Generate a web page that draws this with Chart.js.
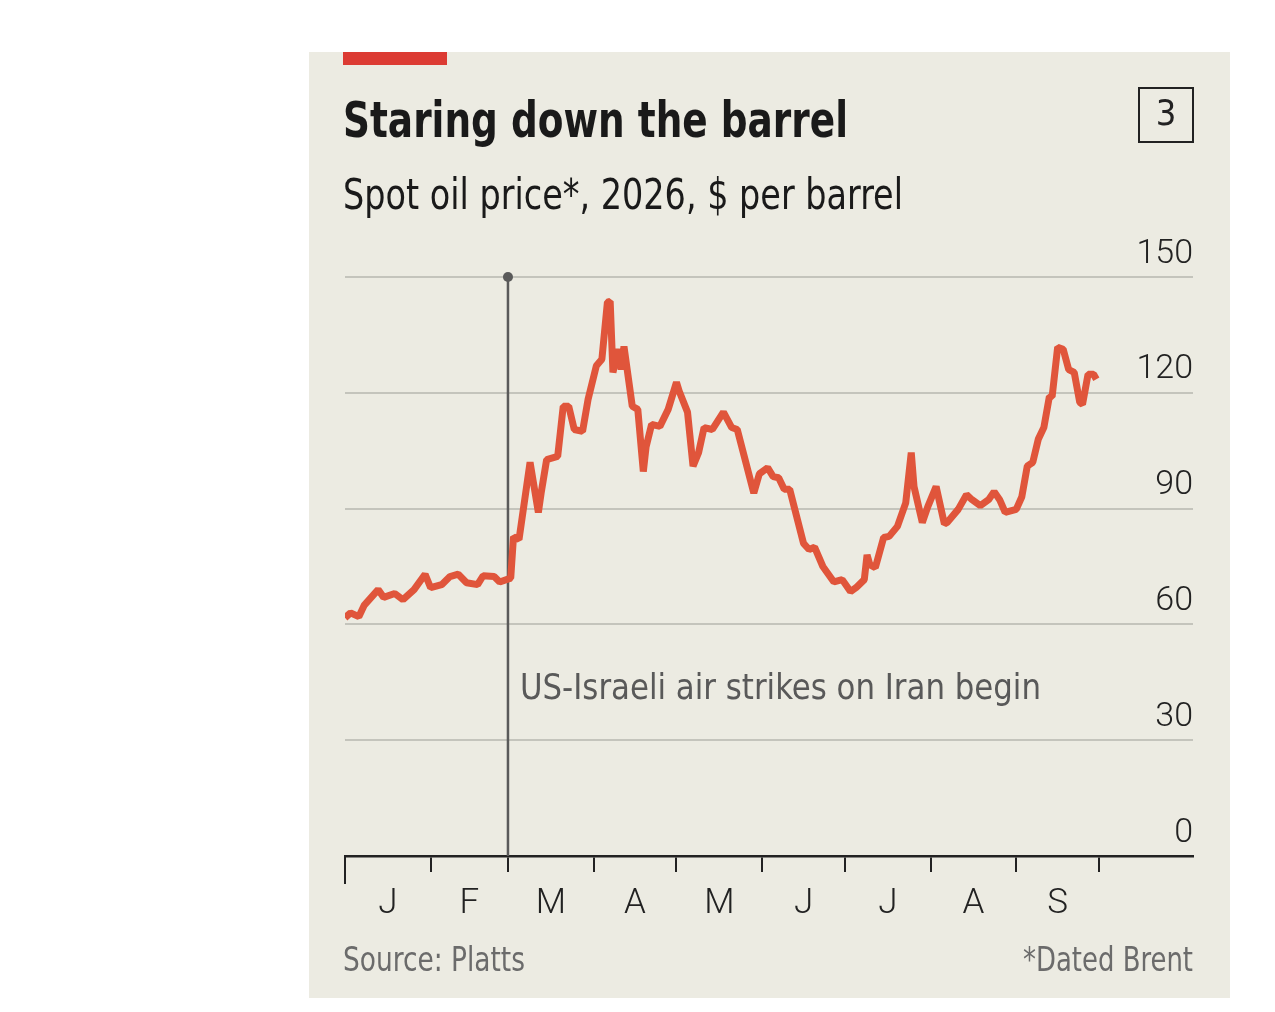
<!DOCTYPE html>
<html>
<head>
<meta charset="utf-8">
<script src="https://cdn.jsdelivr.net/npm/chart.js@4.4.1/dist/chart.umd.min.js"></script>
<style>
  html, body { margin: 0; padding: 0; background: #ffffff; }
  #panel { position: absolute; left: 309px; top: 52px; width: 921px; height: 946px; background: #ECEBE2; }
  #oilChart { display: block; }
</style>
</head>
<body>
<div id="panel"><canvas id="oilChart" width="921" height="946"></canvas></div>
<script>
// day of year 2026 (0 = Jan 1) and Dated Brent price, $ per barrel
var days = [0,2,5,7,12,14,18,21,25,29,31,35,38,41,44,48,50,54,56,60,61,63,67,70,71,73,77,79,81,83,86,88,91,93,95,96,97,99,100,101,104,106,108,109,111,114,117,120,121,124,126,128,130,133,137,140,142,148,150,153,155,157,159,161,166,168,170,173,175,177,180,183,185,188,189,190,192,195,197,200,203,205,206,209,211,214,217,218,222,225,227,230,233,235,237,239,243,245,247,249,251,253,255,256,258,260,262,264,266,267,269,271,272];
var prices = [61.7,63,62,65,69,67,68,66.4,69,73,69.5,70.3,72.4,73,70.8,70.3,72.6,72.4,71,72,82.7,82,102,89,94,102.7,103.5,116.5,116.5,110.5,110,118.3,127,128.7,143.5,143.7,125.3,131.3,126,132,116.5,115.7,99.6,106,111.8,111.3,115.7,122.7,120.4,115,101,104.5,111,110.5,115,111,110.5,94,99,100.6,98.3,98,95,95,81,79.4,80,75,73,71,71.6,68.5,69.5,71.6,78,75.5,74.7,82.5,82.8,85.4,91.5,104.5,95.7,86.4,90.5,95.7,86,86.4,89.8,93.6,92.3,90.8,92.3,94.4,92.3,89,89.8,93,101,102,108,111,119,119,131.8,131.3,126,125.3,117.5,117,124.8,124.8,123.5];

var monthLabels = ['J','F','M','A','M','J','J','A','S'];
var monthStarts = [0,31,59,90,120,151,181,212,243,273];
var yTicks = [0,30,60,90,120,150];
var strikeDay = 59;

var narrow = "'Liberation Sans Narrow', 'DejaVu Sans Condensed', 'Roboto', sans-serif";
var light = "'Roboto', 'DejaVu Sans Condensed', sans-serif";

var points = days.map(function (d, i) { return { x: d, y: prices[i] }; });
var monthMids = monthLabels.map(function (m, i) { return (monthStarts[i] + monthStarts[i + 1]) / 2; });

// text squeezed/stretched to the width it has in the original
function fitText(ctx, text, x, y, font, color, width, align) {
  ctx.save();
  ctx.font = font;
  ctx.fillStyle = color;
  ctx.textAlign = 'left';
  ctx.textBaseline = 'alphabetic';
  var w = ctx.measureText(text).width;
  ctx.translate(align === 'right' ? x - width : x, y);
  ctx.scale(width / w, 1);
  ctx.fillText(text, 0, 0);
  ctx.restore();
}

var strikeLine = {
  id: 'strikeLine',
  beforeDatasetsDraw: function (chart) {
    var ctx = chart.ctx;
    var px = chart.scales.x.getPixelForValue(strikeDay);
    var top = chart.scales.y.getPixelForValue(150);
    var bottom = chart.scales.y.getPixelForValue(0);
    ctx.save();
    ctx.strokeStyle = '#5a5a5a';
    ctx.lineWidth = 2.5;
    ctx.beginPath();
    ctx.moveTo(px, top);
    ctx.lineTo(px, bottom);
    ctx.stroke();
    ctx.fillStyle = '#5a5a5a';
    ctx.beginPath();
    ctx.arc(px, top, 5, 0, Math.PI * 2);
    ctx.fill();
    ctx.restore();
    fitText(ctx, 'US-Israeli air strikes on Iran begin', px + 12, 647,
      '36px ' + narrow, '#595959', 521);
  },
  afterDraw: function (chart) {
    // longer first tick at the start of the year
    var ctx = chart.ctx;
    var px = chart.scales.x.getPixelForValue(0);
    var y0 = chart.scales.y.getPixelForValue(0);
    ctx.save();
    ctx.strokeStyle = '#222';
    ctx.lineWidth = 2;
    ctx.beginPath();
    ctx.moveTo(px, y0);
    ctx.lineTo(px, y0 + 28);
    ctx.stroke();
    ctx.restore();
  }
};

var decorations = {
  id: 'decorations',
  afterDraw: function (chart) {
    var ctx = chart.ctx;
    ctx.save();
    ctx.fillStyle = '#DC3B33';
    ctx.fillRect(34, 0, 104, 13);
    ctx.strokeStyle = '#222';
    ctx.lineWidth = 2;
    ctx.strokeRect(830, 36, 54, 54);
    ctx.fillStyle = '#222';
    ctx.font = '500 36px ' + narrow;
    ctx.textAlign = 'center';
    ctx.textBaseline = 'middle';
    ctx.fillText('3', 857, 64);
    ctx.restore();
    fitText(ctx, 'Staring down the barrel', 34, 85, 'bold 50px ' + narrow, '#1a1a1a', 505);
    fitText(ctx, 'Spot oil price*, 2026, $ per barrel', 34, 157, '42px ' + narrow, '#1a1a1a', 560);
    fitText(ctx, 'Source: Platts', 34, 919, '33px ' + narrow, '#6b6b6b', 182);
    fitText(ctx, '*Dated Brent', 884, 919, '33px ' + narrow, '#6b6b6b', 170, 'right');
  }
};

var ctx = document.getElementById('oilChart').getContext('2d');
var myChart = new Chart(ctx, {
  type: 'line',
  data: {
    datasets: [{
      label: 'Dated Brent',
      data: points,
      borderColor: '#E0553B',
      borderWidth: 7,
      borderJoinStyle: 'bevel',
      pointRadius: 0,
      tension: 0,
      fill: false
    }]
  },
  options: {
    responsive: false,
    animation: false,
    layout: { padding: { left: 36, right: 37, top: 225, bottom: 76 } },
    plugins: {
      legend: { display: false },
      title: { display: false },
      tooltip: { enabled: false }
    },
    scales: {
      x: {
        type: 'linear',
        position: 'bottom',
        weight: 0,
        min: 0,
        max: 307,
        afterBuildTicks: function (axis) {
          axis.ticks = monthStarts.map(function (v) { return { value: v }; });
        },
        afterFit: function (axis) { axis.height = 16; },
        ticks: { display: false },
        grid: { drawOnChartArea: false, drawTicks: true, tickLength: 16, color: '#222', lineWidth: 2 },
        border: { display: true, color: '#222', width: 2.5 }
      },
      x2: {
        type: 'linear',
        position: 'bottom',
        weight: 1,
        min: 0,
        max: 307,
        afterBuildTicks: function (axis) {
          axis.ticks = monthMids.map(function (v) { return { value: v }; });
        },
        afterFit: function (axis) { axis.height = 50; },
        ticks: {
          padding: 3,
          maxRotation: 0,
          autoSkip: false,
          color: '#222',
          font: { family: light, size: 35, weight: 300 },
          callback: function (value, index) { return monthLabels[index]; }
        },
        grid: { display: false },
        border: { display: false }
      },
      y: {
        position: 'right',
        min: 0,
        max: 150,
        afterBuildTicks: function (axis) {
          axis.ticks = yTicks.map(function (v) { return { value: v }; });
        },
        afterFit: function (axis) { axis.width = 0; },
        ticks: {
          mirror: true,
          padding: 0,
          labelOffset: -23,
          color: '#222',
          font: { family: light, size: 34, weight: 300 }
        },
        grid: { color: '#C4C4BC', lineWidth: 2, drawTicks: false },
        border: { display: false }
      }
    }
  },
  plugins: [strikeLine, decorations]
});
</script>
</body>
</html>
